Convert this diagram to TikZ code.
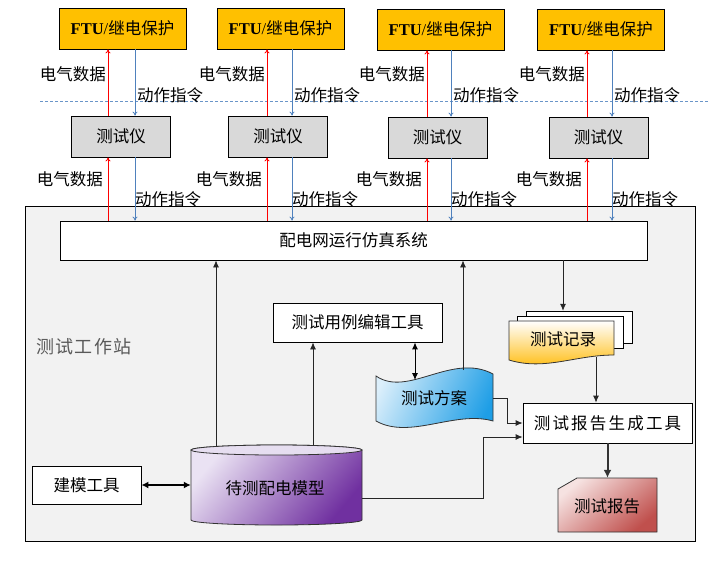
\documentclass[tikz,border=0pt]{standalone}
\usepackage{fontspec}
\setmainfont{Noto Sans CJK SC}
\newfontfamily\latinserif{Liberation Serif}
\usetikzlibrary{arrows.meta,calc}
\definecolor{ftuorange}{HTML}{FFC000}
\definecolor{testgray}{HTML}{D9D9D9}
\definecolor{wsgray}{HTML}{F2F2F2}
\definecolor{cmdblue}{HTML}{4F81BD}
\definecolor{dashblue}{HTML}{6A95C8}
\definecolor{datared}{HTML}{FF0000}
\definecolor{cylL}{HTML}{EAE2F3}
\definecolor{cylR}{HTML}{7030A0}
\definecolor{cyltop}{HTML}{E6DEF0}
\definecolor{planL}{HTML}{DCEFFB}
\definecolor{planR}{HTML}{1E9EE6}
\definecolor{recB}{HTML}{FFB800}
\definecolor{repL}{HTML}{F6E2E1}
\definecolor{repR}{HTML}{C0504D}
\definecolor{wsText}{HTML}{595959}
\begin{document}
\begin{tikzpicture}[x=1pt,y=-1pt,
  every node/.style={font=\fontsize{16.5pt}{18pt}\selectfont},
  box/.style={draw=black, line width=0.8pt, inner sep=0pt, align=center},
  ftubox/.style={box, fill=ftuorange, minimum width=127pt, minimum height=41pt},
  testbox/.style={box, fill=testgray, minimum width=99pt, minimum height=41pt},
  whitebox/.style={box, fill=white},
  plain/.style={inner sep=0pt},
  redarr/.style={draw=datared, line width=0.8pt, -{To[length=4pt,width=5pt]}},
  bluearr/.style={draw=cmdblue, line width=0.8pt, -{To[length=4pt,width=5pt]}},
  blk/.style={draw=black!85, line width=0.8pt, -{Latex[length=7pt,width=6pt]}},
  blkthick/.style={draw=black!80, line width=2pt, -{Latex[length=8pt,width=8pt]}},
  dblthick/.style={draw=black, line width=1.6pt, {Latex[length=7pt,width=7pt]}-{Latex[length=7pt,width=7pt]}},
  dblthin/.style={draw=black, line width=0.9pt, {Latex[length=7pt,width=6pt]}-{Latex[length=7pt,width=6pt]}},
  sheet/.style={draw=black, line width=0.8pt, fill=white}
]
\useasboundingbox (0,0) rectangle (711,563);

% workstation background
\node[draw=black, line width=0.8pt, fill=wsgray, minimum width=670pt, minimum height=335pt, inner sep=0pt] (ws) at (360,373.5) {};
\node[plain, text=wsText, font=\fontsize{18pt}{20pt}\selectfont] (wslabel) at (84,347) {测\kern1.5pt 试\kern1.5pt 工\kern1.5pt 作\kern1.5pt 站};

% dashed separator
\draw[dashblue, line width=0.8pt, dash pattern=on 3pt off 2pt] (40,101) -- (708,101);

% FTU and tester boxes
\foreach \i/\fx/\fy/\tx/\ty in {1/122.5/28.5/121/136.5, 2/280.5/28.5/278/136.5, 3/440.5/29.5/437.5/137.5, 4/601/29.5/598.5/137.5}{
  \node[ftubox] (f\i) at (\fx,\fy) {{\latinserif\bfseries FTU}{\latinserif /}继电保护};
  \node[testbox] (t\i) at (\tx,\ty) {测试仪};
}

% simulation system
\node[whitebox, minimum width=587pt, minimum height=39pt] (sim) at (353.5,240.5) {配电网运行仿真系统};

% red / blue links
\foreach \i/\r/\b in {1/108/135, 2/267/292, 3/427/451, 4/587/612}{
  \coordinate (r\i) at (\r,0);
  \coordinate (b\i) at (\b,0);
  \draw[redarr] (t\i.north -| r\i) -- (f\i.south -| r\i);
  \draw[bluearr] (f\i.south -| b\i) -- (t\i.north -| b\i);
  \draw[redarr] (sim.north -| r\i) -- (t\i.south -| r\i);
  \draw[bluearr] (t\i.south -| b\i) -- (sim.north -| b\i);
  \node[plain, anchor=east] (eu\i) at ({\r-2},74) {电气数据};
  \node[plain, anchor=west] (cu\i) at ({\b+2},95) {动作指令};
  \node[plain, anchor=east] (el\i) at ({\r-5},179.5) {电气数据};
  \node[plain, anchor=west] (cl\i) at ({\b},199) {动作指令};
}

% test case editor
\node[whitebox, minimum width=169pt, minimum height=39pt] (case) at (357.5,322.5) {测试用例编辑工具};

% modeling tool
\node[whitebox, minimum width=109pt, minimum height=38pt] (mtool) at (86.5,485) {建模工具};

% report generation tool
\node[whitebox, minimum width=169pt, minimum height=40pt] (gen) at (607.5,423)
  {测\kern2.2pt 试\kern2.2pt 报\kern2.2pt 告\kern2.2pt 生\kern2.2pt 成\kern2.2pt 工\kern2.2pt 具};

% cylinder (model under test)
\shade[draw=black!80, line width=0.8pt, top color=cylL, bottom color=cylR, shading angle=50]
  (191,450) -- (191,520) arc[start angle=180, end angle=0, x radius=85.5, y radius=5]
  -- (362,450) arc[start angle=0, end angle=-180, x radius=85.5, y radius=5] -- cycle;
\filldraw[draw=black!80, line width=0.8pt, fill=cyltop] (276.5,450) ellipse [x radius=85.5, y radius=5];
\node[plain, minimum width=171pt, minimum height=80pt] (model) at (276.5,485) {};
\node[plain] (modeltext) at (275,488) {待测配电模型};

% test plan (tape shape)
\shade[draw=black!80, line width=0.8pt, top color=planL, bottom color=planR, shading angle=65]
  (376,376) .. controls (408,398) and (452,352) .. (493,374)
  -- (493,421) .. controls (455,410) and (410,440) .. (376,421) -- cycle;
\node[plain, minimum width=117pt, minimum height=46pt] (plan) at (434.5,398) {};
\node[plain] (plantext) at (434,398) {测试方案};
\coordinate (planTop) at (415,380);
\coordinate (planPeak) at (463,370);

% test records (stacked documents)
\draw[sheet] (526,311) rectangle (632,343);
\draw[sheet] (517,316) rectangle (623,348);
\shade[draw=black!80, line width=0.8pt, top color=white, bottom color=recB]
  (509,321) -- (614,321) -- (614,355) .. controls (575,355) and (545,371) .. (509,360) -- cycle;
\node[plain, minimum width=123pt, minimum height=50pt] (rec) at (570.5,336) {};
\node[plain] (rectext) at (563,339.5) {测试记录};
\coordinate (recb) at (596,357);

% test report (cut-corner card)
\shade[draw=black!80, line width=0.8pt, top color=repL, bottom color=repR, shading angle=40]
  (558,489) -- (577,478) -- (657,478) -- (657,532) -- (558,532) -- cycle;
\node[plain, minimum width=99pt, minimum height=54pt] (rep) at (607.5,505) {};
\node[plain] (reptext) at (607,506) {测试报告};

% black connectors
\coordinate (a1) at (216,0);
\coordinate (a2) at (313,0);
\coordinate (k1) at (563,0);
\draw[blk] ($(model.north -| a1)+(0,1.5)$) -- (sim.south -| a1);
\draw[blk] ($(model.north -| a2)+(0,0.5)$) -- (case.south -| a2);
\draw[dblthin] (case.south -| planTop) -- (planTop);
\draw[blk] (planPeak) -- (sim.south -| planPeak);
\draw[blk] (sim.south -| k1) -- (rec.north -| k1);
\draw[blk] (recb) -- (gen.north -| recb);
\draw[blk] (plan.east) -- ++(14,0) |- (gen.west);
\draw[blk] ($(model.east)+(0,13)$) -- ++(121,0) |- ($(gen.west)+(0,14)$);
\draw[blkthick] (gen.south -| rep.north) -- (rep.north);
\draw[dblthick] (mtool.east) -- (model.west);
\end{tikzpicture}
\end{document}
